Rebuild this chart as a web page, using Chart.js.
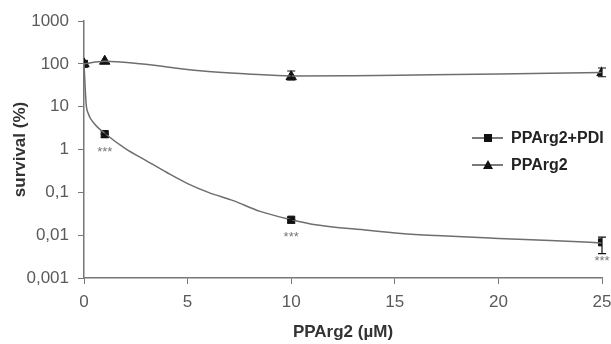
<!DOCTYPE html>
<html>
<head>
<meta charset="utf-8">
<script src="https://cdn.jsdelivr.net/npm/chart.js@4.4.1/dist/chart.umd.min.js"></script>
<style>
  html, body { margin: 0; padding: 0; background: #fff; }
  #wrap { width: 611px; height: 344px; }
</style>
</head>
<body>
<div id="wrap"><canvas id="survival" width="611" height="344"></canvas></div>
<script>
// measured points
const doses = [0, 1, 10, 25];
const pdiSurvival = [100, 2.3, 0.023, 0.0068];
const pdiErrLow = [100, 1.9, 0.019, 0.0037];
const pdiErrHigh = [100, 2.3, 0.023, 0.009];
const pparSurvival = [100, 115, 50, 62];
const pparErrLow = [100, 115, 42, 50];
const pparErrHigh = [100, 115, 68, 80];
const significance = ['', '***', '***', '***'];

// fitted curves
const pdiCurveX = [0, 0.1, 0.2, 0.5, 1, 2, 3, 4, 5, 6, 7.2, 8.5, 10, 11, 13.7, 15.3, 17, 20, 22.5, 25];
const pdiCurveY = [100, 12, 7, 4, 2.4, 1.05, 0.55, 0.29, 0.16, 0.1, 0.064, 0.036, 0.023, 0.018, 0.013, 0.011, 0.0098, 0.0084, 0.0075, 0.0066];
const pparCurveX = [0, 1, 2.7, 5.6, 7.9, 10, 13, 16, 20, 25];
const pparCurveY = [100, 115, 100, 69, 58, 52, 53, 55, 58, 63];

const yTicks = [0.001, 0.01, 0.1, 1, 10, 100, 1000];
const xTicks = [0, 5, 10, 15, 20, 25];

const toPts = (xs, ys) => xs.map((x, i) => ({ x: x, y: ys[i] }));

const lineGrey = '#6e6e6e';
const tickGrey = '#5a5a5a';
const fontFamily = '"Liberation Sans", Arial, sans-serif';

const errorBars = {
    id: 'errorBars',
    afterDatasetsDraw(chart) {
        const ctx = chart.ctx;
        const xs = chart.scales.x, ys = chart.scales.y;
        ctx.save();
        ctx.strokeStyle = '#111';
        ctx.lineWidth = 1.2;
        const sets = [[pdiErrLow, pdiErrHigh], [pparErrLow, pparErrHigh]];
        sets.forEach(([lo, hi]) => {
            doses.forEach((d, i) => {
                if (lo[i] === hi[i]) return;
                const px = xs.getPixelForValue(d);
                const y1 = ys.getPixelForValue(lo[i]);
                const y2 = ys.getPixelForValue(hi[i]);
                ctx.beginPath();
                ctx.moveTo(px, y1); ctx.lineTo(px, y2);
                ctx.moveTo(px - 4, y1); ctx.lineTo(px + 4, y1);
                ctx.moveTo(px - 4, y2); ctx.lineTo(px + 4, y2);
                ctx.stroke();
            });
        });
        // asterisks under the PDI points
        ctx.fillStyle = '#777';
        ctx.font = '13px ' + fontFamily;
        ctx.textAlign = 'center';
        ctx.textBaseline = 'middle';
        doses.forEach((d, i) => {
            if (!significance[i]) return;
            const px = xs.getPixelForValue(d);
            const yp = ys.getPixelForValue(pdiSurvival[i]);
            const yl = ys.getPixelForValue(pdiErrLow[i]);
            ctx.fillText(significance[i], px, Math.max(yp + 10, yl) + 8);
        });
        ctx.restore();
    }
};

const legendBox = {
    id: 'legendBox',
    afterDraw(chart) {
        const ctx = chart.ctx;
        const items = [
            { label: 'PPArg2+PDI', style: 'rect' },
            { label: 'PPArg2', style: 'triangle' }
        ];
        ctx.save();
        items.forEach((it, i) => {
            const y = 138 + i * 27;
            ctx.strokeStyle = '#222';
            ctx.lineWidth = 1.2;
            ctx.beginPath();
            ctx.moveTo(472, y); ctx.lineTo(503, y);
            ctx.stroke();
            ctx.fillStyle = '#111';
            if (it.style === 'rect') {
                ctx.fillRect(484, y - 4, 8, 8);
            } else {
                ctx.beginPath();
                ctx.moveTo(488, y - 5); ctx.lineTo(493, y + 4); ctx.lineTo(483, y + 4);
                ctx.closePath(); ctx.fill();
            }
            ctx.fillStyle = '#222';
            ctx.font = 'bold 16px ' + fontFamily;
            ctx.textAlign = 'left';
            ctx.textBaseline = 'middle';
            ctx.fillText(it.label, 511, y + 1);
        });
        ctx.restore();
    }
};

new Chart(document.getElementById('survival'), {
    type: 'scatter',
    data: {
        datasets: [
            {
                label: 'PPArg2+PDI fit',
                data: toPts(pdiCurveX, pdiCurveY),
                showLine: true,
                borderColor: lineGrey,
                borderWidth: 1.5,
                pointRadius: 0,
                cubicInterpolationMode: 'monotone'
            },
            {
                label: 'PPArg2 fit',
                data: toPts(pparCurveX, pparCurveY),
                showLine: true,
                borderColor: lineGrey,
                borderWidth: 1.5,
                pointRadius: 0,
                cubicInterpolationMode: 'monotone'
            },
            {
                label: 'PPArg2+PDI',
                data: toPts(doses, pdiSurvival),
                pointStyle: 'rect',
                pointRadius: 5,
                backgroundColor: '#111',
                borderColor: '#111'
            },
            {
                label: 'PPArg2',
                data: toPts(doses, pparSurvival),
                pointStyle: 'triangle',
                pointRadius: 6,
                backgroundColor: '#111',
                borderColor: '#111'
            }
        ]
    },
    options: {
        responsive: false,
        animation: false,
        layout: { autoPadding: false, padding: { top: 21, right: 0, left: 0, bottom: 0 } },
        plugins: {
            legend: { display: false },
            tooltip: { enabled: false }
        },
        scales: {
            x: {
                type: 'linear',
                min: 0,
                max: 25,
                afterBuildTicks: (axis) => { axis.ticks = xTicks.map(v => ({ value: v })); },
                afterFit: (axis) => {
                    axis.height = 66;
                    axis.paddingRight = 9;
                    axis.paddingLeft = 0;
                },
                ticks: {
                    color: tickGrey,
                    padding: 8,
                    font: { size: 17, family: fontFamily }
                },
                grid: { drawOnChartArea: false, drawTicks: true, tickLength: 6, color: '#777' },
                border: { color: '#777', width: 1.5 },
                title: {
                    display: true,
                    text: 'PPArg2 (µM)',
                    color: '#333',
                    padding: { top: 0, bottom: 1 },
                    font: { size: 17, weight: 'bold', family: fontFamily }
                }
            },
            y: {
                type: 'logarithmic',
                min: 0.001,
                max: 1000,
                afterBuildTicks: (axis) => { axis.ticks = yTicks.map(v => ({ value: v })); },
                afterFit: (axis) => { axis.width = 84; },
                ticks: {
                    color: tickGrey,
                    padding: 9,
                    font: { size: 17, family: fontFamily },
                    callback: (v) => String(v).replace('.', ',')
                },
                grid: { drawOnChartArea: false, drawTicks: true, tickLength: 6, color: '#777' },
                border: { color: '#777', width: 1.5 },
                title: {
                    display: true,
                    text: 'survival (%)',
                    color: '#333',
                    padding: { top: 10, bottom: 0 },
                    font: { size: 17, weight: 'bold', family: fontFamily }
                }
            }
        }
    },
    plugins: [errorBars, legendBox]
});
</script>
</body>
</html>
